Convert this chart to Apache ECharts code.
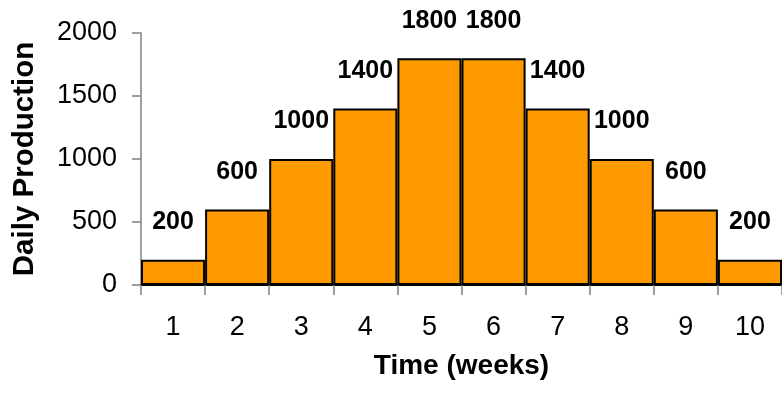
<!DOCTYPE html>
<html>
<head>
<meta charset="utf-8">
<style>
  html, body { margin: 0; padding: 0; background: #fff; }
  #chart { width: 782px; height: 406px; }
</style>
<script src="https://cdn.jsdelivr.net/npm/echarts@6/dist/echarts.min.js"></script>
</head>
<body>
<div id="chart"></div>
<script>
// Weekly production schedule
const weeks = ['1', '2', '3', '4', '5', '6', '7', '8', '9', '10'];
const dailyProduction = [200, 600, 1000, 1400, 1800, 1800, 1400, 1000, 600, 200];
const yTicks = { min: 0, max: 2000, step: 500 };

const FONT = '"Liberation Sans", Arial, sans-serif';
const chart = echarts.init(document.getElementById('chart'), null, { renderer: 'canvas' });

chart.setOption({
  animation: false,
  grid: { left: 141, right: 0, top: 33, bottom: 121, containLabel: false, outerBoundsMode: 'none' },
  xAxis: {
    type: 'category',
    data: weeks,
    name: 'Time (weeks)',
    nameLocation: 'middle',
    nameGap: 67,
    nameTextStyle: { fontFamily: FONT, fontSize: 28, fontWeight: 'bold', color: '#000' },
    axisLine: { show: true, lineStyle: { color: '#000', width: 2 } },
    axisTick: { show: true, alignWithLabel: false, length: 10, lineStyle: { color: '#808080', width: 1.5 } },
    axisLabel: { margin: 29, fontFamily: FONT, fontSize: 27, color: '#000' },
    splitLine: { show: false }
  },
  yAxis: {
    type: 'value',
    min: yTicks.min,
    max: yTicks.max,
    interval: yTicks.step,
    name: 'Daily Production',
    nameLocation: 'middle',
    nameGap: 101,
    nameRotate: 90,
    nameTextStyle: { fontFamily: FONT, fontSize: 29.5, fontWeight: 'bold', color: '#000' },
    axisLine: { show: true, lineStyle: { color: '#808080', width: 1.5 } },
    axisTick: { show: true, length: 9, lineStyle: { color: '#808080', width: 1.5 } },
    axisLabel: { margin: 24, fontFamily: FONT, fontSize: 27, color: '#000', formatter: v => String(v) },
    splitLine: { show: false }
  },
  series: [{
    type: 'bar',
    data: dailyProduction,
    barCategoryGap: 0,
    itemStyle: { color: '#FF9900', borderColor: '#000', borderWidth: 2 },
    label: {
      show: true,
      position: 'top',
      distance: 25,
      fontFamily: FONT,
      fontSize: 25,
      fontWeight: 'bold',
      color: '#000'
    }
  }]
});
</script>
</body>
</html>
